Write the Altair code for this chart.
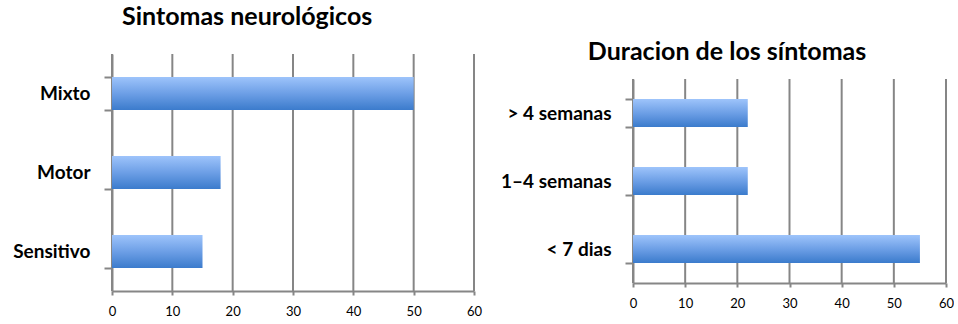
import altair as alt
import pandas as pd

# Neurological symptoms (count of patients)
neuro_cats = ["Mixto", "Motor", "Sensitivo"]
neuro_vals = [50, 18, 15]

# Duration of symptoms
dur_cats = ["> 4 semanas", "1–4 semanas", "< 7 dias"]
dur_vals = [22, 22, 55]

x_ticks = [0, 10, 20, 30, 40, 50, 60]

GRID = "#868686"
FONT = "Lato"

bar_fill = alt.LinearGradient(
    gradient="linear",
    stops=[
        alt.GradientStop(color="#9ec4fb", offset=0),
        alt.GradientStop(color="#6d9fe6", offset=0.5),
        alt.GradientStop(color="#3b7bcc", offset=1),
    ],
    x1=0, x2=0, y1=0, y2=1,
)


def x_enc():
    return alt.X(
        "val:Q",
        scale=alt.Scale(domain=[0, 60], nice=False),
        axis=alt.Axis(
            values=x_ticks,
            title=None,
            grid=False,
            domainColor=GRID,
            domainWidth=2,
            tickColor=GRID,
            tickWidth=2,
            tickSize=4,
            labelFont=FONT,
            labelFontSize=13,
            labelColor="#000000",
            labelPadding=10,
            labelFlush=False,
        ),
    )


def bar_panel(cats, vals, title, width, height, top, pad_inner, label_extent, title_offset):
    """Horizontal bar panel whose plotting band starts `top` px below the view top."""
    df = pd.DataFrame({"cat": cats, "val": vals})
    grid_df = pd.DataFrame({"val": x_ticks})

    y_scale = alt.Scale(paddingInner=pad_inner, paddingOuter=pad_inner / 2)
    if top:
        y_scale = alt.Scale(paddingInner=pad_inner, paddingOuter=pad_inner / 2,
                            range=[top, height])

    grid = (
        alt.Chart(grid_df)
        .mark_rule(color=GRID, strokeWidth=2)
        .encode(x=x_enc(), y=alt.value(top), y2=alt.value(height))
    )

    bars = (
        alt.Chart(df)
        .mark_bar(color=bar_fill)
        .encode(
            x=x_enc(),
            y=alt.Y(
                "cat:N",
                sort=cats,
                scale=y_scale,
                axis=alt.Axis(
                    title=None,
                    tickBand="extent",
                    domainColor=GRID,
                    domainWidth=2,
                    tickColor=GRID,
                    tickWidth=2,
                    tickSize=8,
                    labelFont=FONT,
                    labelFontWeight="bold",
                    labelFontSize=19,
                    labelColor="#000000",
                    labelPadding=14,
                    minExtent=label_extent,
                    maxExtent=label_extent,
                ),
            ),
        )
    )

    return alt.layer(grid, bars).properties(
        width=width,
        height=height,
        title=alt.TitleParams(
            text=title,
            font=FONT,
            fontSize=25,
            fontWeight="bold",
            color="#000000",
            anchor="middle",
            frame="bounds",
            offset=title_offset,
        ),
    )


left = bar_panel(neuro_cats, neuro_vals, "Sintomas neurológicos",
                 362, 237, 0, 0.58, 99, 15)
right = bar_panel(dur_cats, dur_vals, "Duracion de los síntomas",
                  313, 229, 25, 0.59, 127, -20)

chart = (
    alt.hconcat(left, right, spacing=18)
    .configure(padding={"left": 12, "top": 5, "right": 0, "bottom": 0})
    .configure_view(stroke=None)
    .configure_concat(spacing=18)
)

chart.save("out.html", embed_options={"renderer": "svg", "actions": False})
